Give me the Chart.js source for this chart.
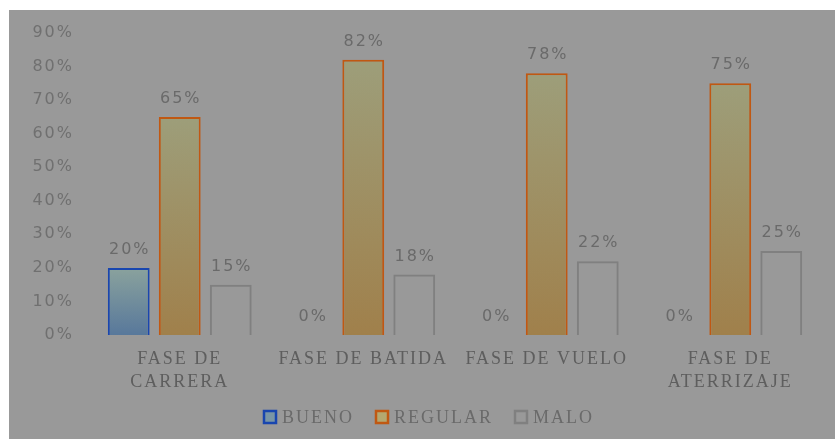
<!DOCTYPE html>
<html>
<head>
<meta charset="utf-8">
<script src="https://cdn.jsdelivr.net/npm/chart.js@4"></script>
<style>
  html, body { margin: 0; padding: 0; background: #ffffff; }
  #box { position: absolute; left: 9px; top: 10px; width: 826px; height: 429px; background: #999999; }
</style>
</head>
<body>
<div id="box"><canvas id="chart" width="826" height="429"></canvas></div>
<script>
// Datos del gráfico
const fases = [['FASE DE', 'CARRERA'], 'FASE DE BATIDA', 'FASE DE VUELO', ['FASE DE', 'ATERRIZAJE']];
const bueno = [20, 0, 0, 0];
const regular = [65, 82, 78, 75];
const malo = [15, 18, 22, 25];
const yTicks = [0, 10, 20, 30, 40, 50, 60, 70, 80, 90];

const textColor = '#6a6a6a';

// degradado vertical por barra (arriba -> abajo)
function barGradient(topColor, bottomColor) {
    return function(context) {
        const chart = context.chart;
        if (!chart.chartArea || context.raw === undefined) return topColor;
        const y = chart.scales.y;
        const g = chart.ctx.createLinearGradient(0, y.getPixelForValue(context.raw), 0, y.getPixelForValue(0));
        g.addColorStop(0, topColor);
        g.addColorStop(1, bottomColor);
        return g;
    };
}

function borderFor(width) {
    return function(context) {
        return context.raw === 0 ? 0 : width;
    };
}

// espaciado de letras como en la imagen original
const spacingPlugin = {
    id: 'spacing',
    beforeUpdate(chart) { chart.ctx.letterSpacing = '2px'; },
    beforeDraw(chart) { chart.ctx.letterSpacing = '2px'; }
};

// etiquetas de valor sobre cada barra
const valueLabels = {
    id: 'valueLabels',
    afterDatasetsDraw(chart) {
        const ctx = chart.ctx;
        ctx.save();
        ctx.font = '16px "DejaVu Sans"';
        ctx.letterSpacing = '2px';
        ctx.fillStyle = textColor;
        ctx.textAlign = 'center';
        ctx.textBaseline = 'middle';
        chart.data.datasets.forEach((ds, i) => {
            chart.getDatasetMeta(i).data.forEach((bar, j) => {
                ctx.fillText(ds.data[j] + '%', bar.x + 1, bar.y - 18);
            });
        });
        ctx.restore();
    }
};

// leyenda inferior
const bottomLegend = {
    id: 'bottomLegend',
    afterDraw(chart) {
        const ctx = chart.ctx;
        ctx.save();
        ctx.font = '18px "Liberation Serif"';
        ctx.letterSpacing = '2px';
        const box = 12, gap = 6, itemGap = 22;
        const items = chart.data.datasets.map(ds => ({
            text: ds.label,
            w: ctx.measureText(ds.label).width,
            fill: ds.legendFill,
            stroke: ds.legendStroke
        }));
        let total = items.reduce((s, it) => s + box + gap + it.w, 0) + itemGap * (items.length - 1);
        let x = (chart.chartArea.left + chart.chartArea.right) / 2 - total / 2 - 26;
        const y = 407;
        ctx.textBaseline = 'middle';
        ctx.textAlign = 'left';
        items.forEach(it => {
            ctx.fillStyle = it.fill;
            ctx.fillRect(x, y - box / 2, box, box);
            ctx.lineWidth = 2.5;
            ctx.strokeStyle = it.stroke;
            ctx.strokeRect(x, y - box / 2, box, box);
            ctx.fillStyle = textColor;
            ctx.fillText(it.text, x + box + gap, y + 1);
            x += box + gap + it.w + itemGap;
        });
        ctx.restore();
    }
};

const ctx = document.getElementById('chart').getContext('2d');
new Chart(ctx, {
    type: 'bar',
    data: {
        labels: fases,
        datasets: [
            {
                label: 'BUENO',
                data: bueno,
                backgroundColor: barGradient('rgb(138,162,157)', 'rgb(88,120,155)'),
                borderColor: 'rgb(25,70,175)',
                borderWidth: borderFor(2),
                legendFill: 'rgb(122,150,165)',
                legendStroke: 'rgb(25,70,175)'
            },
            {
                label: 'REGULAR',
                data: regular,
                backgroundColor: barGradient('rgb(157,158,122)', 'rgb(160,128,75)'),
                borderColor: 'rgb(192,88,18)',
                borderWidth: borderFor(2),
                legendFill: 'rgb(180,168,112)',
                legendStroke: 'rgb(192,88,18)'
            },
            {
                label: 'MALO',
                data: malo,
                backgroundColor: 'rgba(0,0,0,0)',
                borderColor: 'rgb(128,128,128)',
                borderWidth: borderFor(2),
                legendFill: 'rgb(153,153,153)',
                legendStroke: 'rgb(128,128,128)'
            }
        ]
    },
    options: {
        responsive: false,
        animation: false,
        events: [],
        categoryPercentage: 0.834,
        barPercentage: 0.82,
        layout: {
            padding: { left: 0, right: 13, top: 23, bottom: 44 }
        },
        plugins: {
            legend: { display: false },
            tooltip: { enabled: false }
        },
        scales: {
            x: {
                grid: { display: false },
                border: { display: false },
                ticks: {
                    color: '#5e5e5e',
                    font: { family: '"Liberation Serif"', size: 18, lineHeight: 1.28 },
                    padding: 5,
                    maxRotation: 0,
                    autoSkip: false
                },
                afterFit(scale) { scale.height = 60; }
            },
            y: {
                min: 0,
                max: 90,
                grid: { display: false },
                border: { display: false },
                afterBuildTicks(scale) { scale.ticks = yTicks.map(v => ({ value: v })); },
                afterFit(scale) { scale.width = 79; },
                ticks: {
                    color: '#707070',
                    font: { family: '"DejaVu Sans"', size: 16 },
                    padding: 6,
                    callback: v => v + '%'
                }
            }
        }
    },
    plugins: [spacingPlugin, valueLabels, bottomLegend]
});
</script>
</body>
</html>
